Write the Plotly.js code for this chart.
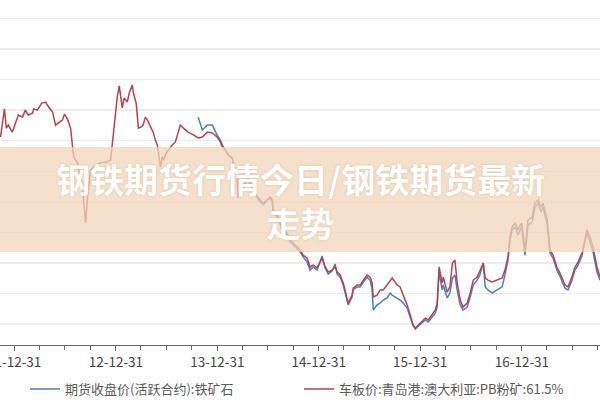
<!DOCTYPE html>
<html>
<head>
<meta charset="utf-8">
<script src="https://cdn.plot.ly/plotly-3.0.1.min.js"></script>
<style>html,body{margin:0;padding:0;background:#fff;}#chart{width:600px;height:400px;}</style>
</head>
<body>
<div id="chart"></div>
<script>
// ---- data ----
const dates = [
'2011-11-12','2011-11-19','2011-11-26','2011-12-03','2011-12-10','2011-12-24',
'2012-01-04','2012-01-15','2012-01-30','2012-02-09','2012-02-20','2012-03-06','2012-03-10','2012-03-24','2012-04-08','2012-04-22',
'2012-05-03','2012-05-17','2012-05-28','2012-06-08','2012-06-22','2012-06-29','2012-07-11','2012-07-21','2012-07-28','2012-08-01',
'2012-08-15','2012-09-02','2012-09-13','2012-09-20','2012-10-01','2012-10-19','2012-11-06','2012-11-28','2012-12-12','2012-12-23','2012-12-29',
'2013-01-05','2013-01-12','2013-01-23','2013-01-30','2013-02-10','2013-02-17','2013-02-28','2013-03-04','2013-03-14','2013-03-22',
'2013-04-01','2013-04-08','2013-04-16','2013-04-23','2013-05-04','2013-05-14','2013-05-22','2013-05-29','2013-06-01','2013-06-09',
'2013-06-16','2013-06-20','2013-06-30','2013-07-08','2013-07-22','2013-08-02','2013-08-09','2013-08-20','2013-08-31','2013-09-17','2013-10-06',
'2013-10-23','2013-11-07','2013-11-25','2013-12-13','2013-12-30',
'2014-01-11','2014-01-18','2014-01-29','2014-02-09','2014-02-23','2014-02-26','2014-03-13','2014-03-16','2014-03-31','2014-04-11',
'2014-04-21','2014-05-06','2014-05-13','2014-05-24','2014-06-03','2014-06-14','2014-06-28','2014-07-09','2014-07-17','2014-07-20',
'2014-08-04','2014-08-14','2014-08-25','2014-09-08','2014-09-19','2014-09-30','2014-10-14','2014-10-25','2014-11-05','2014-11-19',
'2014-11-30','2014-12-11','2014-12-25',
'2015-01-05','2015-01-12','2015-01-23','2015-02-03','2015-02-17','2015-02-28','2015-03-07','2015-03-18','2015-03-29','2015-04-12',
'2015-04-16','2015-04-30','2015-05-04','2015-05-18','2015-05-29','2015-06-05','2015-06-16','2015-06-23','2015-07-04','2015-07-11',
'2015-07-15','2015-07-29','2015-08-09','2015-08-20','2015-09-03','2015-09-14','2015-09-21','2015-10-09','2015-10-20','2015-10-31',
'2015-11-14','2015-11-25','2015-12-06','2015-12-13','2015-12-24',
'2016-01-07','2016-01-18','2016-01-29','2016-02-12','2016-02-23','2016-03-01','2016-03-08','2016-03-19','2016-03-23','2016-04-06',
'2016-04-16','2016-04-25','2016-05-04','2016-05-12','2016-05-23','2016-06-02','2016-06-17','2016-06-28','2016-07-09','2016-07-23',
'2016-08-02','2016-08-14','2016-08-21','2016-08-31','2016-09-15','2016-10-03','2016-10-21','2016-10-31','2016-11-11','2016-11-18',
'2016-11-26','2016-12-07','2016-12-17','2016-12-30',
'2017-01-11','2017-01-22','2017-02-06','2017-02-16','2017-02-27','2017-03-10','2017-03-17','2017-04-01','2017-04-11','2017-04-22',
'2017-05-06','2017-05-17','2017-06-04','2017-06-15','2017-06-29','2017-07-10','2017-07-21','2017-08-04','2017-08-15','2017-08-22',
'2017-09-02','2017-09-13','2017-09-27','2017-10-08'
];

// 车板价:青岛港:澳大利亚:PB粉矿:61.5%
const spotPB = [
912,968,1004,941,951,928,
958,984,977,1000,984,990,1004,1000,1023,1026,
1010,994,951,958,968,987,968,941,879,847,
827,749,631,716,804,820,827,830,837,941,990,
1043,1079,1007,1040,1026,1056,1082,1056,1023,941,
945,951,977,968,945,928,902,886,870,814,
847,837,860,870,886,896,919,951,941,928,919,
909,912,928,925,912,
896,879,870,853,843,827,781,716,739,762,
778,749,732,716,706,696,706,716,706,673,
657,631,608,598,575,565,552,543,526,516,
487,493,484,
503,516,487,471,477,487,471,461,435,386,
369,395,418,428,428,438,451,461,454,435,
389,395,412,412,428,444,451,428,422,395,
363,330,297,287,297,
307,320,314,330,346,369,487,435,454,405,
422,500,510,435,379,356,369,402,444,454,
477,500,451,444,438,444,451,477,520,585,
618,631,608,631,
543,641,650,696,706,683,696,641,543,526,
487,467,428,422,454,487,503,533,585,608,
585,552,487,454
];

// 期货收盘价(活跃合约):铁矿石 — starts with the contract listing
const futStart = '2013-10-23';
const futIron = [
977,935,951,951,919,
902,886,870,853,843,827,778,713,739,762,
771,745,729,713,699,690,706,713,699,667,
650,624,601,592,569,559,546,536,520,503,
477,487,477,
503,523,484,464,474,497,464,454,428,379,
363,389,412,422,422,431,444,454,444,412,
346,363,369,379,386,402,395,386,379,369,
353,323,294,284,294,
304,314,307,323,336,356,471,412,428,386,
402,451,461,412,363,346,356,389,428,444,
461,500,422,412,402,412,422,461,510,575,
608,618,592,618,
526,624,634,683,696,667,683,624,533,516,
477,457,418,412,444,477,493,523,575,598,
569,536,471,444
];

const tickDates  = ['2011-12-31','2012-12-31','2013-12-31','2014-12-31','2015-12-31','2016-12-31'];
const tickLabels = ['11-12-31','12-12-31','13-12-31','14-12-31','15-12-31','16-12-31'];
const nameFut  = '期货收盘价(活跃合约):铁矿石';
const nameSpot = '车板价:青岛港:澳大利亚:PB粉矿:61.5%';
const bannerText = '钢铁期货行情今日/钢铁期货最新<br>走势';

// ---- build ----
const futDates = dates.slice(dates.indexOf(futStart));
const minorVals = [];
for (let y = 2011; y <= 2017; y++) {
  minorVals.push(y + '-03-31', y + '-06-30', y + '-09-30');
}

const cjk = '"Noto Sans CJK SC", "Noto Sans", sans-serif';

const traces = [
  {
    x: futDates, y: futIron, name: nameFut, type: 'scatter', mode: 'lines',
    line: {color: '#4a7fbf', width: 1.5}
  },
  {
    x: dates, y: spotPB, name: nameSpot, type: 'scatter', mode: 'lines',
    line: {color: '#b5434f', width: 1.5}
  }
];

const layout = {
  width: 600, height: 400,
  margin: {l: 0, r: 0, t: 0, b: 55, pad: 0, autoexpand: false},
  paper_bgcolor: '#ffffff', plot_bgcolor: '#ffffff',
  showlegend: true,
  font: {family: cjk, color: '#444'},
  xaxis: {
    type: 'date',
    range: ['2011-11-10', '2017-10-08'],
    tickmode: 'array', tickvals: tickDates, ticktext: tickLabels,
    ticks: 'outside', ticklen: 5, tickwidth: 1, tickcolor: '#666',
    ticklabeloverflow: 'allow', ticklabelstandoff: 0,
    showline: true, linecolor: '#666', linewidth: 1,
    showgrid: false, zeroline: false, automargin: false,
    tickfont: {family: cjk, size: 13.5, color: '#444'},
    minor: {tickmode: 'array', tickvals: minorVals, ticks: 'outside', ticklen: 4, tickcolor: '#666', tickwidth: 1, showgrid: false}
  },
  yaxis: {
    range: [232, 1360],
    tick0: 0, dtick: 100,
    showticklabels: false, ticks: '',
    showgrid: true, gridcolor: '#ececec', gridwidth: 1.5,
    zeroline: false, showline: false, automargin: false
  },
  legend: {
    orientation: 'h', x: 25 / 600, xanchor: 'left', y: -0.1275, yanchor: 'middle',
    font: {family: cjk, size: 13, color: '#595959'},
    bgcolor: 'rgba(0,0,0,0)', borderwidth: 0,
    entrywidth: 229, entrywidthmode: 'pixels',
    traceorder: 'normal'
  },
  shapes: [
    {type: 'rect', xref: 'paper', yref: 'paper', x0: 0, x1: 1, y0: 0.2696, y1: 0.5739,
     fillcolor: 'rgba(242,214,186,0.75)', line: {width: 0}, layer: 'above'}
  ],
  annotations: [
    {text: bannerText, xref: 'paper', yref: 'paper', x: 0.5, y: 0.4174, xanchor: 'center', yanchor: 'middle',
     align: 'center', showarrow: false,
     font: {family: cjk, size: 34, color: '#ffffff', weight: 'bold', shadow: '0px 0px 2px rgba(150,100,60,0.35)'}}
  ]
};

Plotly.newPlot('chart', traces, layout, {staticPlot: true, displayModeBar: false});
</script>
</body>
</html>
